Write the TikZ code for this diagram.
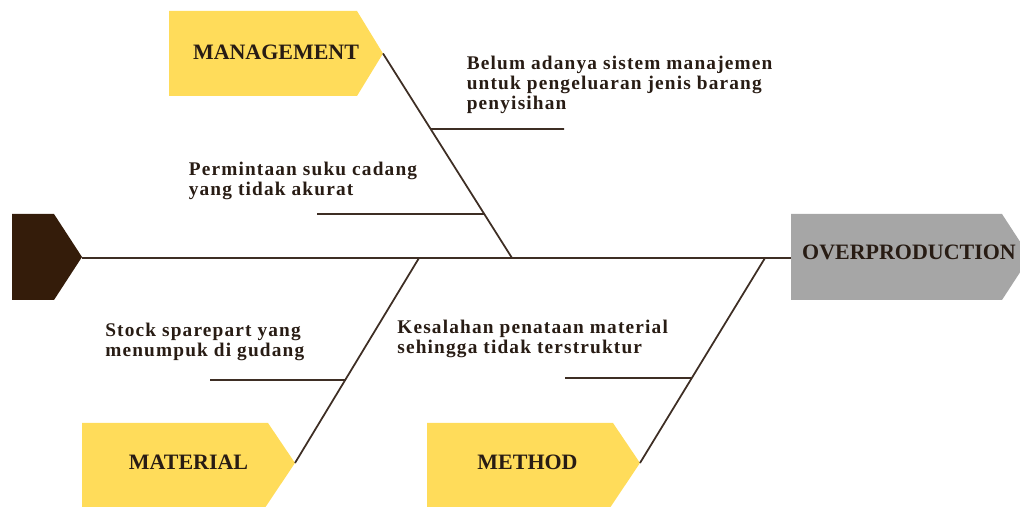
\documentclass[tikz,border=0pt]{standalone}
\usepackage{fontspec}
\setmainfont{Liberation Serif}
\newfontfamily\causefont[LetterSpace=6]{Liberation Serif}
\usetikzlibrary{calc}
\definecolor{boxyellow}{RGB}{255,220,90}
\definecolor{boxgrey}{RGB}{166,166,166}
\definecolor{headbrown}{RGB}{52,28,10}
\definecolor{bonebrown}{RGB}{62,46,36}
\definecolor{inkbrown}{RGB}{40,28,20}
\tikzset{
    tagyellow/.style = {fill=boxyellow},
    taggrey/.style = {fill=boxgrey},
    taghead/.style = {fill=headbrown},
    title/.style = {inner sep=0pt, text=inkbrown, font=\bfseries\fontsize{12.5}{14}\selectfont},
    cause/.style = {anchor=north west, inner sep=0pt, align=left, text=inkbrown, font=\causefont\bfseries\fontsize{11}{11.3}\selectfont},
    bone/.style = {line width=1pt, draw=bonebrown}
}
\begin{document}
\begin{tikzpicture}
\useasboundingbox (0,0) rectangle (20.4,10.14);
\clip (0,0) rectangle (20.4,10.14);
%
\fill[taghead] (0.24,5.86) -- (1.08,5.86) -- (1.64,5.00) -- (1.08,4.14) -- (0.24,4.14) -- cycle;
\fill[taggrey] (15.82,5.86) -- (20.04,5.86) -- (20.60,5.00) -- (20.04,4.14) -- (15.82,4.14) -- cycle;
\fill[tagyellow] (3.38,9.92) -- (7.14,9.92) -- (7.66,9.07) -- (7.14,8.22) -- (3.38,8.22) -- cycle;
\fill[tagyellow] (1.64,1.68) -- (5.36,1.68) -- (5.90,0.88) -- (5.31,0.00) -- (1.64,0.00) -- cycle;
\fill[tagyellow] (8.54,1.68) -- (12.26,1.68) -- (12.80,0.88) -- (12.21,0.00) -- (8.54,0.00) -- cycle;
%
\node[title] at (18.18,5.09) (effect) {OVERPRODUCTION};
\node[title] at (5.52,9.10) (mgmt) {MANAGEMENT};
\node[title] at (3.77,0.90) (matl) {MATERIAL};
\node[title] at (10.55,0.90) (meth) {METHOD};
%
\coordinate (head tip) at (1.64,4.98);
\coordinate (effect tail) at (15.82,4.98);
\coordinate (mgmt tip) at (7.66,9.07);
\coordinate (matl tip) at (5.90,0.88);
\coordinate (meth tip) at (12.80,0.88);
\coordinate (mgmt joint) at (10.24,4.98);
\coordinate (matl joint) at (8.38,4.98);
\coordinate (meth joint) at (15.30,4.98);
%
\coordinate (m1) at ($(mgmt tip)!0.369!(mgmt joint)$);
\coordinate (m2) at ($(mgmt tip)!0.785!(mgmt joint)$);
\coordinate (a1) at ($(matl tip)!0.405!(matl joint)$);
\coordinate (h1) at ($(meth tip)!0.415!(meth joint)$);
\coordinate (m1 end) at (11.28,7.56);
\coordinate (m2 end) at (6.34,5.86);
\coordinate (a1 end) at (4.20,2.54);
\coordinate (h1 end) at (11.30,2.58);
%
\node[cause] at (9.33,9.02) (c1) {Belum adanya sistem manajemen\\untuk pengeluaran jenis barang\\penyisihan};
\node[cause] at (3.77,6.91) (c2) {Permintaan suku cadang\\yang tidak akurat};
\node[cause] at (2.10,3.68) (c3) {Stock sparepart yang\\menumpuk di gudang};
\node[cause] at (7.94,3.74) (c4) {Kesalahan penataan material\\sehingga tidak terstruktur};
%
\draw[bone] (head tip) -- (effect tail);
\draw[bone] (mgmt tip) -- (mgmt joint);
\draw[bone] (matl tip) -- (matl joint);
\draw[bone] (meth tip) -- (meth joint);
\draw[bone] (m1) -- (m1 end);
\draw[bone] (m2) -- (m2 end);
\draw[bone] (a1) -- (a1 end);
\draw[bone] (h1) -- (h1 end);
\end{tikzpicture}
\end{document}
